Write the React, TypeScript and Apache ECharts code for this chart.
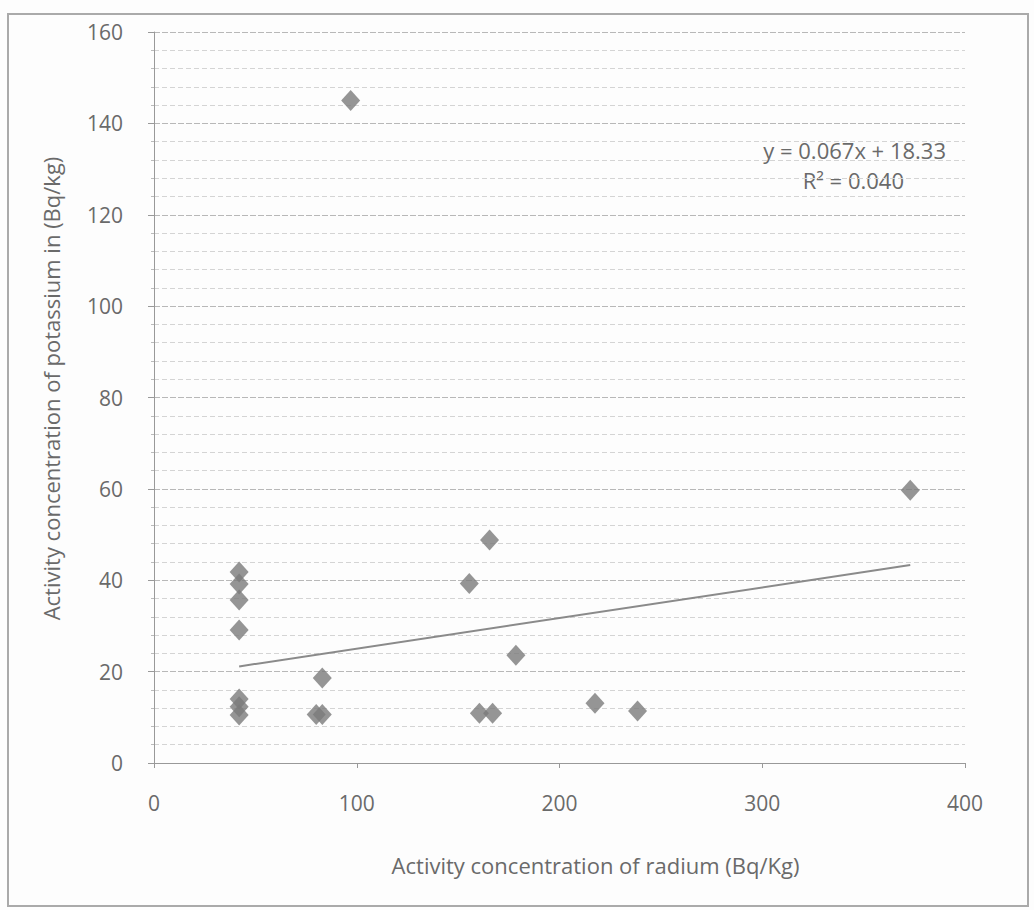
import React, { useEffect, useRef } from "react";
import * as echarts from "echarts";

const radium: number[] = [97, 42, 42, 42, 42, 42, 42, 42, 83, 80, 83, 155.5, 165.5, 178.5, 160.5, 167, 217.5, 238.5, 373];
const potassium: number[] = [145, 41.8, 39.2, 35.7, 29.1, 14, 12.3, 10.5, 18.6, 10.6, 10.6, 39.3, 48.8, 23.6, 10.9, 10.9, 13.1, 11.4, 59.7];
const slope = 0.067;
const intercept = 18.33;
const equationText = "y = 0.067x + 18.33";
const r2Text = "R² = 0.040";
const xTitle = "Activity concentration of radium (Bq/Kg)";
const yTitle = "Activity concentration of potassium in (Bq/kg)";

export default function App() {
  const ref = useRef<HTMLDivElement>(null);
  useEffect(() => {
    if (!ref.current) return;
    const chart = echarts.init(ref.current, null, { renderer: "svg" });
    const pts = radium.map((x, i) => [x, potassium[i]]);
    const xMin = Math.min(...radium);
    const xMax = Math.max(...radium);
    const trend = [
      [xMin, slope * xMin + intercept],
      [xMax, slope * xMax + intercept],
    ];
    const font = "'Open Sans', Lato, sans-serif";
    chart.setOption({
      animation: false,
      backgroundColor: "#fdfdfd",
      textStyle: { fontFamily: font },
      grid: { left: 154, right: 69, top: 32, bottom: 147 },
      xAxis: {
        type: "value",
        min: 0,
        max: 400,
        interval: 100,
        name: xTitle,
        nameLocation: "middle",
        nameGap: 91,
        nameTextStyle: { color: "#6a6a6a", fontSize: 22, fontFamily: font, padding: [0, 0, 0, 72] },
        axisLine: { show: true, lineStyle: { color: "#999", width: 1 } },
        axisTick: { show: true, length: 5, lineStyle: { color: "#999" } },
        axisLabel: { color: "#6a6a6a", fontSize: 21, margin: 29, fontFamily: font },
        splitLine: { show: false },
      },
      yAxis: {
        type: "value",
        min: 0,
        max: 160,
        interval: 20,
        name: yTitle,
        nameLocation: "middle",
        nameGap: 92,
        nameRotate: 90,
        nameTextStyle: { color: "#6a6a6a", fontSize: 22, fontFamily: font, padding: [0, 0, 0, 18] },
        axisLine: { show: true, lineStyle: { color: "#999", width: 1 } },
        axisTick: { show: true, length: 6, lineStyle: { color: "#999" } },
        minorTick: { show: true, splitNumber: 5, length: 3, lineStyle: { color: "#bbb" } },
        axisLabel: { color: "#6a6a6a", fontSize: 21, margin: 31, fontFamily: font },
        splitLine: { show: true, lineStyle: { color: "#b8b8b8", width: 1.2, type: [6, 2] } },
        minorSplitLine: { show: true, lineStyle: { color: "#d4d4d4", width: 1, type: [5, 3] } },
      },
      series: [
        {
          type: "scatter",
          data: pts,
          symbol: "diamond",
          symbolSize: [19, 21],
          itemStyle: { color: "#7b7b7b" },
          z: 3,
        },
        {
          type: "line",
          data: trend,
          symbol: "none",
          lineStyle: { color: "#8a8a8a", width: 2 },
          z: 2,
        },
      ],
      graphic: [
        {
          type: "rect",
          shape: { x: 8, y: 14, width: 1020, height: 892 },
          style: { fill: "none", stroke: "#aaa", lineWidth: 2 },
          silent: true,
        },
        {
          type: "text",
          right: 88,
          top: 139,
          style: { text: equationText, fill: "#6a6a6a", fontSize: 22, fontFamily: font },
        },
        {
          type: "text",
          right: 130,
          top: 169,
          style: { text: r2Text, fill: "#6a6a6a", fontSize: 22, fontFamily: font },
        },
      ],
    });
    return () => chart.dispose();
  }, []);
  return (
    <div
      ref={ref}
      style={{ position: "fixed", left: 0, top: 0, width: 1034, height: 910 }}
    />
  );
}
